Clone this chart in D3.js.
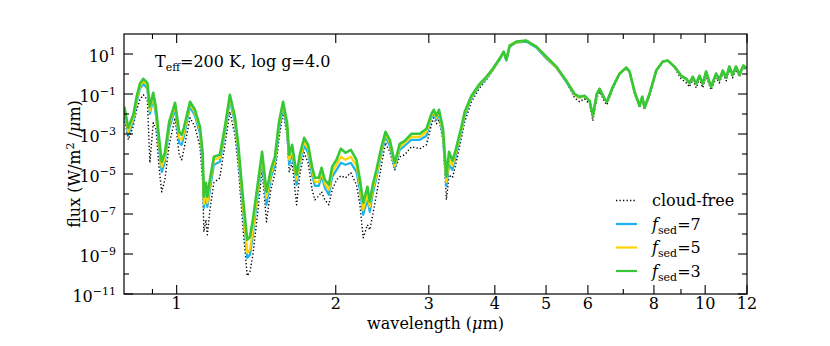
<!DOCTYPE html>
<html>
<head>
<meta charset="utf-8">
<script src="https://cdn.jsdelivr.net/npm/d3@7"></script>
<style>
  body { margin: 0; background: #fff; }
  svg { display: block; font-family: "DejaVu Serif", serif; }
</style>
</head>
<body>
<script>
// wavelength in micron
const wavelength = [
  0.796,0.810,0.828,0.840,0.852,0.865,0.880,0.890,0.903,0.914,
  0.927,0.937,0.950,0.968,0.993,1.011,1.022,1.032,1.060,1.083,
  1.107,1.120,1.126,1.136,1.143,1.156,1.176,1.207,1.234,1.261,
  1.289,1.307,1.336,1.360,1.376,1.394,1.427,1.451,1.479,1.507,
  1.534,1.561,1.590,1.618,1.633,1.654,1.686,1.710,1.743,1.773,
  1.804,1.826,1.858,1.880,1.907,1.941,1.969,2.007,2.045,2.087,
  2.136,2.189,2.222,2.254,2.296,2.320,2.350,2.388,2.441,2.484,
  2.531,2.586,2.643,2.701,2.781,2.842,2.884,2.969,3.034,3.065,
  3.101,3.136,3.191,3.239,3.276,3.325,3.373,3.458,3.508,3.612,
  3.745,3.855,3.967,4.085,4.157,4.206,4.267,4.393,4.588,4.792,
  5.005,5.228,5.460,5.661,5.786,5.913,6.043,6.131,6.239,6.313,
  6.452,6.517,6.689,6.887,7.091,7.194,7.352,7.514,7.602,7.679,
  7.848,8.080,8.315,8.498,8.749,9.008,9.206,9.340,9.475,9.616,
  9.755,9.896,10.04,10.26,10.49,10.64,10.80,10.96,11.11,11.27,
  11.44,11.61,11.81,12.0
];

// log10 of flux (W/m^2/um)
const logFluxCloudFree = [
  -2.19,-3.29,-2.59,-1.79,-1.29,-1.04,-1.29,-4.44,-2.44,-2.79,
  -4.79,-5.89,-5.29,-3.54,-2.19,-4.04,-4.29,-3.79,-2.19,-2.64,
  -3.64,-5.39,-7.89,-7.29,-8.04,-6.79,-5.44,-5.19,-3.54,-1.89,
  -3.04,-4.54,-7.79,-10.09,-9.89,-9.04,-6.69,-4.79,-7.39,-5.79,
  -4.99,-3.29,-1.89,-3.09,-4.89,-4.44,-6.54,-5.04,-3.94,-4.44,
  -5.79,-6.29,-6.09,-5.89,-6.29,-6.54,-5.79,-5.29,-5.09,-5.19,
  -4.94,-5.54,-6.54,-8.19,-7.54,-7.79,-7.04,-6.04,-4.54,-3.44,
  -3.89,-4.79,-4.14,-4.04,-3.64,-3.69,-3.74,-3.54,-2.54,-2.19,
  -2.49,-2.29,-3.29,-6.29,-5.04,-5.19,-4.54,-3.19,-2.39,-1.39,
  -0.69,-0.29,0.17,0.72,1.07,0.67,1.37,1.57,1.67,1.37,
  0.82,0.32,-0.39,-1.19,-1.39,-1.24,-1.49,-2.34,-1.19,-0.89,
  -1.39,-1.54,-0.74,-0.04,0.27,0.07,-0.99,-1.69,-1.24,-1.79,
  -1.09,0.12,0.62,0.67,0.32,-0.24,-0.44,-0.64,-0.29,-0.69,
  -0.24,-0.69,-0.09,-0.79,-0.19,-0.44,0.02,-0.34,0.22,-0.19,
  0.22,-0.14,0.32,0.22
];

const logFluxFsed7 = [
  -1.89,-3.04,-2.34,-1.44,-0.74,-0.49,-0.74,-1.99,-1.24,-2.09,
  -3.79,-4.89,-4.39,-2.74,-1.74,-3.44,-3.54,-3.14,-1.64,-2.09,
  -2.99,-4.39,-6.69,-6.04,-6.64,-5.79,-4.54,-4.39,-2.94,-1.34,
  -2.44,-3.89,-6.89,-9.19,-9.04,-8.04,-5.79,-4.29,-6.54,-5.19,
  -4.54,-2.79,-1.64,-2.79,-4.54,-3.94,-5.54,-4.44,-3.59,-3.94,
  -5.04,-5.59,-5.59,-5.09,-5.69,-6.04,-5.14,-4.79,-4.44,-4.54,
  -4.44,-4.89,-5.79,-7.04,-6.29,-6.89,-5.99,-5.19,-3.94,-3.14,
  -3.59,-4.69,-3.79,-3.59,-3.29,-3.29,-3.29,-3.09,-2.19,-1.99,
  -2.29,-1.99,-3.09,-5.59,-4.54,-4.79,-4.14,-2.89,-2.09,-1.19,
  -0.59,-0.24,0.22,0.72,1.07,0.67,1.37,1.57,1.62,1.32,
  0.77,0.32,-0.39,-1.04,-1.19,-1.09,-1.34,-2.09,-0.99,-0.74,
  -1.24,-1.39,-0.64,0.02,0.32,0.12,-0.89,-1.59,-1.14,-1.69,
  -0.99,0.17,0.62,0.67,0.37,-0.09,-0.24,-0.44,-0.14,-0.49,
  -0.09,-0.49,0.12,-0.64,0.02,-0.29,0.17,-0.19,0.37,-0.04,
  0.37,-0.04,0.42,0.27
];

const logFluxFsed5 = [
  -1.79,-2.89,-2.19,-1.29,-0.64,-0.34,-0.59,-1.84,-1.09,-1.89,
  -3.59,-4.64,-4.19,-2.54,-1.59,-3.19,-3.29,-2.94,-1.49,-1.94,
  -2.79,-4.19,-6.49,-5.79,-6.44,-5.54,-4.29,-4.19,-2.79,-1.19,
  -2.29,-3.69,-6.69,-8.94,-8.79,-7.79,-5.54,-4.09,-6.19,-4.99,
  -4.34,-2.59,-1.49,-2.59,-4.29,-3.79,-5.29,-4.29,-3.39,-3.74,
  -4.84,-5.39,-5.39,-4.89,-5.49,-5.79,-4.89,-4.54,-4.14,-4.29,
  -4.14,-4.59,-5.54,-6.79,-6.04,-6.64,-5.79,-5.04,-3.79,-2.99,
  -3.44,-4.59,-3.64,-3.44,-3.14,-3.14,-3.14,-2.89,-2.09,-1.89,
  -2.19,-1.89,-2.94,-5.39,-4.29,-4.59,-3.94,-2.79,-1.99,-1.14,
  -0.54,-0.19,0.22,0.77,1.07,0.72,1.42,1.57,1.67,1.37,
  0.82,0.32,-0.34,-1.04,-1.19,-1.09,-1.34,-2.09,-0.99,-0.74,
  -1.24,-1.39,-0.64,0.02,0.32,0.12,-0.89,-1.59,-1.14,-1.69,
  -0.99,0.17,0.62,0.67,0.37,-0.09,-0.24,-0.44,-0.14,-0.49,
  -0.09,-0.49,0.12,-0.64,0.02,-0.29,0.17,-0.19,0.37,-0.04,
  0.37,-0.04,0.42,0.27
];

const logFluxFsed3 = [
  -1.64,-2.69,-2.04,-1.14,-0.49,-0.24,-0.44,-1.64,-0.94,-1.69,
  -3.29,-4.39,-3.94,-2.39,-1.44,-2.89,-3.04,-2.69,-1.39,-1.79,
  -2.64,-3.94,-6.14,-5.44,-6.14,-5.29,-4.14,-4.04,-2.64,-1.04,
  -2.14,-3.44,-6.29,-8.29,-8.14,-7.29,-5.29,-3.89,-5.89,-4.79,
  -4.14,-2.44,-1.39,-2.44,-4.04,-3.54,-5.04,-4.04,-3.19,-3.54,
  -4.64,-5.19,-5.19,-4.69,-5.29,-5.54,-4.64,-4.29,-3.74,-3.94,
  -3.79,-4.29,-5.29,-6.44,-5.64,-6.39,-5.54,-4.79,-3.64,-2.89,
  -3.29,-4.44,-3.49,-3.34,-2.99,-2.99,-2.99,-2.74,-1.99,-1.79,
  -2.09,-1.79,-2.74,-5.14,-3.89,-4.34,-3.79,-2.64,-1.89,-1.09,
  -0.49,-0.14,0.27,0.77,1.12,0.72,1.42,1.62,1.67,1.37,
  0.87,0.37,-0.34,-0.99,-1.14,-1.09,-1.34,-2.09,-0.99,-0.74,
  -1.24,-1.39,-0.64,0.02,0.32,0.12,-0.89,-1.59,-1.14,-1.69,
  -0.99,0.17,0.62,0.67,0.37,-0.09,-0.24,-0.44,-0.14,-0.49,
  -0.09,-0.49,0.12,-0.64,0.02,-0.29,0.17,-0.19,0.37,-0.04,
  0.37,-0.04,0.42,0.27
];

const xTicks = [1, 2, 3, 4, 5, 6, 8, 10, 12];
const xMinorTicks = [0.9, 7, 9];
const yMajorExp = [1, -1, -3, -5, -7, -9, -11];
const yMinorExp = [0, -2, -4, -6, -8, -10];

const width = 830, height = 346;
const margin = {top: 34, right: 83, bottom: 52, left: 124};
const fs = 16, fsSmall = 11;

const x = d3.scaleLog().domain([0.795, 12]).range([margin.left, width - margin.right]);
const y = d3.scaleLog().domain([1e-11, 1e2]).range([height - margin.bottom, margin.top]);

const series = [
  {key: "cloud-free", values: logFluxCloudFree, color: "#000", width: 1.4, dash: "1.3,2.2"},
  {key: "7", values: logFluxFsed7, color: "#1ab3ee", width: 2.2},
  {key: "5", values: logFluxFsed5, color: "#ffd400", width: 2.2},
  {key: "3", values: logFluxFsed3, color: "#36c836", width: 2.6}
];

const svg = d3.select("body").append("svg")
    .attr("width", width)
    .attr("height", height);

svg.append("clipPath").attr("id", "clip")
  .append("rect")
    .attr("x", margin.left).attr("y", margin.top)
    .attr("width", width - margin.left - margin.right)
    .attr("height", height - margin.top - margin.bottom);

const line = d3.line()
    .x((d, i) => x(wavelength[i]))
    .y(d => y(10 ** d));

svg.append("g")
    .attr("clip-path", "url(#clip)")
    .attr("fill", "none")
    .attr("stroke-linejoin", "round")
  .selectAll("path")
  .data(series)
  .join("path")
    .attr("stroke", d => d.color)
    .attr("stroke-width", d => d.width)
    .attr("stroke-dasharray", d => d.dash || null)
    .attr("d", d => line(d.values));

// frame
const x0 = margin.left, x1 = width - margin.right;
const y0 = margin.top, y1 = height - margin.bottom;
svg.append("rect")
    .attr("x", x0).attr("y", y0)
    .attr("width", x1 - x0).attr("height", y1 - y0)
    .attr("fill", "none")
    .attr("stroke", "#000")
    .attr("stroke-width", 1.2);

const ticks = svg.append("g").attr("stroke", "#000").attr("stroke-width", 1.1);

// x ticks, top and bottom, pointing inward
xTicks.concat(xMinorTicks).forEach(v => {
  const len = xTicks.includes(v) ? 9 : 5;
  const px = x(v);
  ticks.append("line").attr("x1", px).attr("x2", px).attr("y1", y1).attr("y2", y1 - len);
  ticks.append("line").attr("x1", px).attr("x2", px).attr("y1", y0).attr("y2", y0 + len);
});

// y ticks, left and right
yMajorExp.concat(yMinorExp).forEach(e => {
  const len = yMajorExp.includes(e) ? 9 : 5;
  const py = y(10 ** e);
  ticks.append("line").attr("x1", x0).attr("x2", x0 + len).attr("y1", py).attr("y2", py);
  ticks.append("line").attr("x1", x1).attr("x2", x1 - len).attr("y1", py).attr("y2", py);
});

svg.append("g")
    .attr("font-size", fs)
    .attr("text-anchor", "middle")
  .selectAll("text")
  .data(xTicks)
  .join("text")
    .attr("x", d => x(d))
    .attr("y", y1 + 15)
    .text(d => d);

const yLabels = svg.append("g")
    .attr("font-size", fs)
    .attr("text-anchor", "end")
  .selectAll("text")
  .data(yMajorExp)
  .join("text")
    .attr("x", x0 - 8)
    .attr("y", d => y(10 ** d) + 8);
yLabels.append("tspan").text("10");
yLabels.append("tspan")
    .attr("font-size", fsSmall)
    .attr("dy", -7)
    .text(d => String(d).replace("-", "\u2212"));

// axis titles
svg.append("text")
    .attr("x", (x0 + x1) / 2)
    .attr("y", 329)
    .attr("text-anchor", "middle")
    .attr("font-size", fs)
    .call(t => {
      t.append("tspan").text("wavelength (");
      t.append("tspan").attr("font-style", "italic").text("\u03bc");
      t.append("tspan").text("m)");
    });

svg.append("text")
    .attr("transform", `translate(80,${(y0 + y1) / 2}) rotate(-90)`)
    .attr("text-anchor", "middle")
    .attr("font-size", fs)
    .call(t => {
      t.append("tspan").text("flux (W/m");
      t.append("tspan").attr("font-size", fsSmall).attr("dy", -6).text("2");
      t.append("tspan").attr("dy", 6).text(" /");
      t.append("tspan").attr("font-style", "italic").text("\u03bc");
      t.append("tspan").text("m)");
    });

// annotation
svg.append("text")
    .attr("x", 155)
    .attr("y", 67)
    .attr("font-size", fs)
    .call(t => {
      t.append("tspan").text("T");
      t.append("tspan").attr("font-size", fsSmall).attr("dy", 4).text("eff");
      t.append("tspan").attr("dy", -4).text("=200 K, log g=4.0");
    });

// legend
const legend = svg.append("g").attr("font-size", fs);
series.forEach((s, i) => {
  const ly = 200.5 + i * 23.5;
  legend.append("line")
      .attr("x1", 616).attr("x2", 637)
      .attr("y1", ly).attr("y2", ly)
      .attr("stroke", s.color)
      .attr("stroke-width", s.dash ? 1.4 : 2.2)
      .attr("stroke-dasharray", s.dash || null);
  const t = legend.append("text").attr("x", 652).attr("y", ly + 5.5);
  if (s.dash) {
    t.text(s.key);
  } else {
    t.append("tspan").attr("font-style", "italic").text("f");
    t.append("tspan").attr("font-size", fsSmall).attr("dy", 4).text("sed");
    t.append("tspan").attr("dy", -4).text("=" + s.key);
  }
});
</script>
</body>
</html>
